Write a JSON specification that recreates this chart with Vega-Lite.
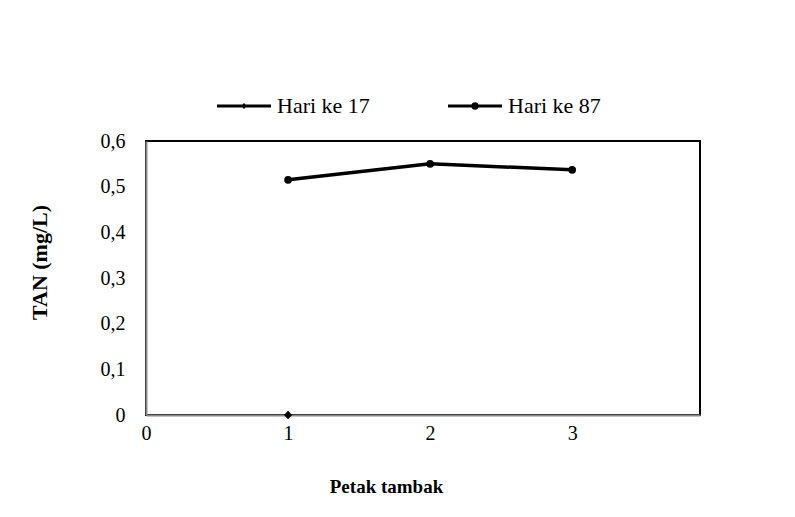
{
  "$schema": "https://vega.github.io/schema/vega-lite/v6.json",
  "width": 554,
  "height": 274,
  "autosize": {"type": "none"},
  "padding": {"left": 146, "top": 141, "right": 95, "bottom": 102},
  "background": "white",
  "config": {
    "font": "Liberation Serif",
    "view": {"stroke": "black", "strokeWidth": 2}
  },
  "data": {
    "values": [
      {"seri": "Hari ke 17", "petak": 1, "tan": 0},
      {"seri": "Hari ke 87", "petak": 1, "tan": 0.515},
      {"seri": "Hari ke 87", "petak": 2, "tan": 0.55},
      {"seri": "Hari ke 87", "petak": 3, "tan": 0.537}
    ]
  },
  "encoding": {
    "x": {
      "field": "petak",
      "type": "quantitative",
      "scale": {"domain": [0, 3.9], "nice": false},
      "axis": {
        "values": [0, 1, 2, 3],
        "grid": false,
        "ticks": false,
        "domainColor": "#898989",
        "domainWidth": 2,
        "labelFontSize": 20,
        "labelColor": "black",
        "labelPadding": 8,
        "labelFlush": false,
        "title": "Petak tambak",
        "titleFontSize": 19,
        "titleFontWeight": "bold",
        "titleColor": "black",
        "titleX": 240,
        "titleY": 71,
        "titleAlign": "center",
        "titleBaseline": "middle"
      }
    },
    "y": {
      "field": "tan",
      "type": "quantitative",
      "scale": {"domain": [0, 0.6], "nice": false},
      "axis": {
        "values": [0, 0.1, 0.2, 0.3, 0.4, 0.5, 0.6],
        "grid": false,
        "ticks": false,
        "domainColor": "#898989",
        "domainWidth": 2,
        "labelFontSize": 20,
        "labelColor": "black",
        "labelPadding": 21,
        "labelFlush": false,
        "labelExpr": "datum.value == 0 ? '0' : replace(format(datum.value, '.1f'), '.', ',')",
        "title": "TAN (mg/L)",
        "titleFontSize": 22,
        "titleFontWeight": "bold",
        "titleColor": "black",
        "titleX": -107,
        "titleY": 121,
        "titleAngle": -90,
        "titleAlign": "center",
        "titleBaseline": "middle"
      }
    },
    "color": {
      "field": "seri",
      "type": "nominal",
      "scale": {"range": ["black", "black"]},
      "legend": {
        "title": null,
        "orient": "none",
        "legendX": 71,
        "legendY": -62,
        "direction": "horizontal",
        "labelFontSize": 22,
        "labelColor": "black",
        "labelOffset": 6,
        "columnPadding": 78,
        "symbolSize": 2916,
        "encode": {
          "symbols": {
            "update": {
              "fill": {"value": "black"},
              "stroke": {"value": "transparent"},
              "strokeWidth": {"value": 0},
              "opacity": {"value": 1},
              "shape": {"signal": "datum.value == 'Hari ke 17' ? 'M-1,-0.056H1V0.056H-1Z M0,-0.11L0.11,0L0,0.11L-0.11,0Z' : 'M-1,-0.056H1V0.056H-1Z M0.14,0A0.14,0.14 0 1,1 -0.14,0A0.14,0.14 0 1,1 0.14,0Z'"}
            }
          }
        }
      }
    }
  },
  "layer": [
    {"mark": {"type": "line", "strokeWidth": 3.5}},
    {
      "mark": {"type": "point", "filled": true, "opacity": 1},
      "encoding": {
        "shape": {"field": "seri", "type": "nominal", "scale": {"range": ["diamond", "circle"]}, "legend": null},
        "size": {"field": "seri", "type": "nominal", "scale": {"range": [70, 60]}, "legend": null}
      }
    }
  ]
}
